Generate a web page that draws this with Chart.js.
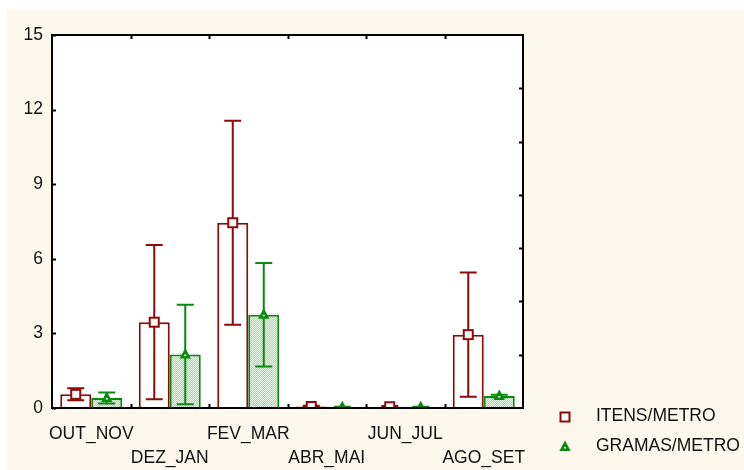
<!DOCTYPE html>
<html>
<head>
<meta charset="utf-8">
<script src="https://cdn.jsdelivr.net/npm/chart.js@4/dist/chart.umd.min.js"></script>
<style>
    html, body { margin: 0; padding: 0; background: #ffffff; }
    #wrap { position: absolute; left: 7px; top: 10px; width: 737px; height: 460px; background: #fdf8ec; }
</style>
</head>
<body>
<div id="wrap"><canvas id="barChart" width="737" height="460"></canvas></div>
<script>
// Bimonthly means with their spread
const periodos = ['OUT_NOV', 'DEZ_JAN', 'FEV_MAR', 'ABR_MAI', 'JUN_JUL', 'AGO_SET'];
const itensMetro = [0.55, 3.45, 7.45, 0.06, 0.05, 2.95];
const itensErro = [0.24, 3.1, 4.1, 0.03, 0.03, 2.5];
const gramasMetro = [0.4, 2.15, 3.75, 0.03, 0.03, 0.48];
const gramasErro = [0.22, 2.0, 2.08, 0.02, 0.02, 0.05];
const yTicks = [0, 3, 6, 9, 12, 15];

const RED = '#8c0a0a';
const GREEN = '#0a8a0a';
const FONT = "'Liberation Sans', Arial, sans-serif";
const FONT_SIZE = 17.5;

// dotted light green fill for the second series
function dotPattern() {
    const c = document.createElement('canvas');
    c.width = 2; c.height = 2;
    const g = c.getContext('2d');
    g.fillStyle = '#e2f2e2'; g.fillRect(0, 0, 2, 2);
    g.fillStyle = '#b2d9b2'; g.fillRect(0, 0, 1, 1); g.fillRect(1, 1, 1, 1);
    return g.createPattern(c, 'repeat');
}

const errors = [itensErro, gramasErro];
const markerStyle = ['square', 'triangle'];

function drawMarker(ctx, kind, x, y, color) {
    ctx.save();
    ctx.lineWidth = 2;
    ctx.strokeStyle = color;
    if (kind === 'square') {
        ctx.fillStyle = '#ffffff';
        ctx.fillRect(x - 4.5, y - 4.5, 9, 9);
        ctx.strokeRect(x - 4.5, y - 4.5, 9, 9);
    } else {
        ctx.fillStyle = color;
        ctx.beginPath();
        ctx.moveTo(x, y - 4.5);
        ctx.lineTo(x + 4, y + 3);
        ctx.lineTo(x - 4, y + 3);
        ctx.closePath();
        ctx.fill();
        ctx.stroke();
        ctx.fillStyle = '#ffffff';
        ctx.fillRect(x - 1, y, 2, 1.5);
    }
    ctx.restore();
}

const framePlugin = {
    id: 'frame',
    beforeDraw(chart) {
        const { ctx, chartArea: a } = chart;
        ctx.save();
        ctx.fillStyle = '#ffffff';
        ctx.fillRect(a.left, a.top, a.right - a.left, a.bottom - a.top);
        ctx.restore();
    },
    afterDatasetsDraw(chart) {
        const { ctx, chartArea: a } = chart;
        const y = chart.scales.y;
        ctx.save();
        ctx.beginPath();
        ctx.rect(a.left, a.top, a.right - a.left, a.bottom - a.top + 1);
        ctx.clip();
        chart.data.datasets.forEach((ds, d) => {
            const meta = chart.getDatasetMeta(d);
            meta.data.forEach((bar, i) => {
                const v = ds.data[i], e = errors[d][i];
                const top = y.getPixelForValue(v + e);
                const bot = y.getPixelForValue(v - e);
                ctx.strokeStyle = ds.borderColor;
                ctx.lineWidth = 2;
                ctx.beginPath();
                ctx.moveTo(bar.x, top); ctx.lineTo(bar.x, bot);
                ctx.moveTo(bar.x - 8.5, top); ctx.lineTo(bar.x + 8.5, top);
                ctx.moveTo(bar.x - 8.5, bot); ctx.lineTo(bar.x + 8.5, bot);
                ctx.stroke();
                drawMarker(ctx, markerStyle[d], bar.x, y.getPixelForValue(v), ds.borderColor);
            });
        });
        ctx.restore();
    },
    afterDraw(chart) {
        const { ctx, chartArea: a } = chart;
        const x = chart.scales.x, y = chart.scales.y, y2 = chart.scales.y2;
        ctx.save();
        ctx.strokeStyle = '#000000';
        ctx.lineWidth = 2;
        ctx.strokeRect(a.left, a.top, a.right - a.left, a.bottom - a.top);

        // inward tick marks on all four sides
        ctx.beginPath();
        yTicks.forEach(t => {
            const py = Math.round(y.getPixelForValue(t)) + 0.5;
            ctx.moveTo(a.left, py); ctx.lineTo(a.left + 4, py);
        });
        for (let k = 1; k < 7; k++) {
            const py = Math.round(y2.getPixelForValue(k)) + 0.5;
            ctx.moveTo(a.right, py); ctx.lineTo(a.right - 4, py);
        }
        for (let i = 1; i < periodos.length; i++) {
            const px = Math.round((x.getPixelForValue(i - 1) + x.getPixelForValue(i)) / 2) + 0.5;
            ctx.moveTo(px, a.top); ctx.lineTo(px, a.top + 4);
            ctx.moveTo(px, a.bottom); ctx.lineTo(px, a.bottom - 4);
        }
        ctx.lineWidth = 2;
        ctx.stroke();

        // legend
        ctx.font = FONT_SIZE + 'px ' + FONT;
        ctx.textBaseline = 'middle';
        chart.data.datasets.forEach((ds, d) => {
            const ly = a.bottom + 9 + d * 30;
            drawMarker(ctx, markerStyle[d], a.right + 42, ly, ds.borderColor);
            ctx.fillStyle = '#111111';
            ctx.fillText(ds.label, a.right + 73, ly - 1);
        });
        ctx.restore();
    }
};

const ctx = document.getElementById('barChart').getContext('2d');
const barChart = new Chart(ctx, {
    type: 'bar',
    data: {
        labels: periodos,
        datasets: [
            {
                label: 'ITENS/METRO',
                data: itensMetro,
                backgroundColor: '#ffffff',
                borderColor: RED,
                borderWidth: 2
            },
            {
                label: 'GRAMAS/METRO',
                data: gramasMetro,
                backgroundColor: dotPattern(),
                borderColor: GREEN,
                borderWidth: 2
            }
        ]
    },
    options: {
        responsive: false,
        animation: false,
        events: [],
        categoryPercentage: 0.79,
        barPercentage: 1.0,
        layout: { padding: { top: 25, right: 221, left: 0, bottom: 0 } },
        plugins: { legend: { display: false }, tooltip: { enabled: false } },
        scales: {
            x: {
                grid: { display: false },
                border: { display: false },
                afterFit(s) { s.height = 62; },
                ticks: {
                    autoSkip: false,
                    maxRotation: 0,
                    padding: 6,
                    color: '#111111',
                    font: { family: FONT, size: FONT_SIZE, lineHeight: '24px' },
                    callback(v, i) { return i % 2 ? ['', periodos[i]] : periodos[i]; }
                }
            },
            y: {
                min: 0,
                max: 15,
                grid: { display: false, drawTicks: false },
                border: { display: false },
                afterFit(s) { s.width = 45; },
                afterBuildTicks(s) { s.ticks = yTicks.map(v => ({ value: v })); },
                ticks: {
                    padding: 9,
                    color: '#111111',
                    font: { family: FONT, size: FONT_SIZE }
                }
            },
            y2: {
                position: 'right',
                display: false,
                min: 0,
                max: 7
            }
        }
    },
    plugins: [framePlugin]
});
</script>
</body>
</html>
